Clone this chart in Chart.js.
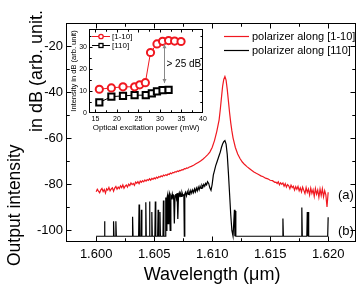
<!DOCTYPE html>
<html>
<head>
<meta charset="utf-8">
<script src="https://cdn.jsdelivr.net/npm/chart.js@4"></script>
<style>
  html, body { margin: 0; padding: 0; background: #fff; }
  #wrap { position: relative; width: 362px; height: 285px; overflow: hidden; }
  #main { position: absolute; left: 0; top: 0; }
  #inset { position: absolute; left: 66px; top: 23px; }
</style>
</head>
<body>
<div id="wrap">
  <canvas id="main" width="362" height="285"></canvas>
  <canvas id="inset" width="145" height="115"></canvas>
</div>
<script>
// Main spectra (wavelength in um, intensity in dB)
const redWl = [1.6000,1.6001,1.6002,1.6003,1.6004,1.6005,1.6006,1.6007,1.6008,1.6009,1.6010,1.6011,1.6012,1.6013,1.6014,1.6015,1.6016,1.6017,1.6018,1.6019,1.6020,1.6021,1.6022,1.6023,1.6024,1.6025,1.6026,1.6027,1.6028,1.6029,1.6030,1.6031,1.6032,1.6033,1.6034,1.6035,1.6036,1.6037,1.6038,1.6039,1.6040,1.6041,1.6042,1.6043,1.6044,1.6045,1.6046,1.6047,1.6048,1.6049,1.6050,1.6051,1.6052,1.6053,1.6054,1.6055,1.6056,1.6057,1.6058,1.6059,1.6060,1.6061,1.6062,1.6063,1.6064,1.6065,1.6066,1.6067,1.6068,1.6069,1.6070,1.6071,1.6072,1.6073,1.6074,1.6075,1.6076,1.6077,1.6078,1.6079,1.6080,
  1.6082,1.6084,1.6086,1.6088,1.6090,1.6092,1.6094,1.6096,1.6098,1.6100,1.6102,1.6104,1.6106,1.6107,1.6108,1.6109,1.6110,1.6111,1.6112,1.6113,1.6114,1.6115,1.6116,1.6117,1.6118,1.6120,1.6122,1.6124,1.6126,1.6128,1.6130,1.6132,1.6134,1.6136,1.6138,1.6140,1.6142,1.6144,1.6146,1.6148,1.6150,1.6152,1.6154,
  1.6155,1.6156,1.6157,1.6158,1.6159,1.6160,1.6161,1.6162,1.6163,1.6164,1.6165,1.6166,1.6167,1.6168,1.6169,1.6170,1.6171,1.6172,1.6173,1.6174,1.6175,1.6176,1.6177,1.6178,1.6179,1.6180,1.6181,1.6182,1.6183,1.6184,1.6185,1.6186,1.6187,1.6188,1.6189,1.6190,1.6191,1.6192,1.6193,1.6194,1.6195,1.6196,1.6197,1.6198,1.6199,1.6200];
const redDb = [-83.2,-82.1,-82.9,-83.6,-82.4,-81.8,-83.1,-82.2,-83.8,-81.9,-82.5,-81.3,-82.8,-82.0,-81.5,-83.0,-81.6,-80.9,-82.1,-81.2,-81.8,-80.6,-81.4,-80.2,-81.7,-80.8,-80.3,-81.2,-79.9,-80.5,-79.4,-80.1,-79.6,-80.4,-79.0,-79.5,-78.8,-79.7,-78.6,-79.1,-78.4,-78.9,-78.1,-78.6,-77.9,-78.3,-77.6,-78.2,-77.4,-77.8,-77.2,-77.6,-76.9,-77.3,-76.6,-76.9,-76.3,-76.7,-76.0,-76.3,-75.8,-76.1,-75.5,-75.7,-75.1,-75.4,-74.8,-75.0,-74.5,-74.7,-74.2,-74.4,-73.9,-74.0,-73.6,-73.7,-73.2,-73.3,-72.9,-73.0,-72.6,
  -72.2,-71.7,-71.1,-70.5,-69.9,-69.1,-68.2,-67.2,-66.0,-64.0,-61.0,-57.0,-52.0,-47.5,-42.5,-37.5,-34.5,-33.2,-34.8,-38.8,-43.8,-48.8,-53.2,-56.8,-59.8,-64.0,-66.8,-68.8,-70.3,-71.4,-72.3,-73.1,-73.9,-74.6,-75.2,-75.7,-76.3,-76.7,-77.3,-77.6,-78.2,-78.4,-79.1,
  -79.0,-79.6,-78.9,-80.2,-79.3,-80.0,-79.4,-80.8,-79.7,-81.2,-80.1,-80.6,-81.9,-80.3,-81.4,-80.8,-82.5,-81.0,-82.1,-80.9,-82.8,-81.5,-83.3,-81.2,-82.6,-84.0,-81.4,-83.5,-82.0,-84.6,-81.6,-83.9,-82.3,-85.2,-81.8,-84.3,-82.5,-85.6,-82.0,-84.8,-81.9,-85.4,-82.7,-84.5,-89.8,-83.4];

const blackWl = [1.6000,1.60068,1.60072,1.60076,1.60146,1.60150,1.60154,1.60166,1.60170,1.60174,1.60310,1.60314,1.60318,1.60366,1.60370,1.60374,1.60386,1.60390,1.60394,1.60424,1.60428,1.60432,1.60456,1.60460,1.60464,1.60476,1.60480,1.60484,1.60506,1.60510,1.60514,1.60530,1.60534,1.60538,1.60546,1.60550,1.60554,1.60576,1.60580,1.60584,1.60596,1.60600,1.60606,1.60610,1.60616,1.60620,1.60626,1.60632,1.60638,1.60644,1.60650,1.60656,1.60662,1.60668,1.60674,1.60680,1.60686,1.60692,1.60698,1.60704,1.60710,1.60716,1.60722,1.60728,1.60734,1.60740,1.60748,1.60756,1.60760,1.60764,1.60770,1.60778,1.60786,1.60794,1.60800,1.60808,1.60816,1.60824,1.60832,1.60840,1.60848,1.60856,1.60864,1.60872,1.60880,1.60888,1.60896,1.60904,1.60912,1.60920,1.60928,1.60936,1.60944,1.60952,1.60960,1.60970,1.60980,1.60990,1.61000,1.61010,1.61020,1.61030,1.61040,1.61050,1.61060,1.61070,1.61080,1.61090,1.61100,1.61110,1.61120,1.61130,1.61140,1.61150,1.61160,1.61170,1.61180,1.61188,1.61192,1.61196,1.61200,1.61204,1.61606,1.61610,1.61614,1.61769,1.61773,1.61777,1.61816,1.61820,1.61824,1.61828,1.61832,1.61996,1.62000];
const blackDb = [-102.5,-102.5,-96,-102.5,-102.5,-96,-102.5,-102.5,-96,-102.5,-102.5,-94,-102.5,-102.5,-88.7,-102.5,-102.5,-91,-102.5,-102.5,-87.8,-102.5,-102.5,-87.4,-102.5,-102.5,-92,-102.5,-102.5,-87.4,-102.5,-102.5,-91,-102.5,-102.5,-92,-102.5,-102.5,-87,-102.5,-102.5,-85.7,-100,-86,-84.5,-97,-85,-84,-100,-85,-85.8,-84.2,-86.5,-84.5,-97,-85,-84.2,-86,-83.8,-95,-84.5,-83.6,-85.5,-84,-85.2,-83.5,-84.8,-84.5,-102.5,-84.2,-83.4,-85,-83.2,-84.4,-83,-84.2,-82.6,-83.8,-82.4,-83.6,-82,-83.2,-81.6,-82.8,-81.2,-82.4,-80.8,-81.8,-80.4,-81.2,-80,-80.8,-79.6,-80.2,-78.8,-79.6,-81.5,-82.6,-80,-76,-74,-72,-70.5,-69,-67.5,-66,-64,-62.5,-61.5,-61,-62.5,-67,-75,-84,-93,-100,-102.5,-102.5,-91,-102.5,-91.5,-102.5,-102.5,-94.8,-102.5,-102.5,-90,-102.5,-102.5,-92,-102.5,-92,-102.5,-102.5,-94.3];

const xTicks = [1.600, 1.605, 1.610, 1.615, 1.620];
const yTicks = [-100, -80, -60, -40, -20];
const seriesNames = ['polarizer along [1-10]', 'polarizer along [110]'];

// Inset: intensity vs optical excitation power
const insetPowerRed = [15.9, 18.7, 21.4, 24.1, 25.3, 26.6, 27.8, 29.3, 30.6, 32.0, 33.4, 34.9];
const insetRed = [10.8, 11.4, 11.9, 11.9, 12.8, 13.8, 27.5, 31.4, 32.6, 32.9, 32.7, 32.5];
const insetPowerBlack = [15.9, 18.7, 21.4, 24.1, 26.7, 28.1, 29.3, 30.6, 32.0];
const insetBlack = [4.8, 7.4, 7.8, 8.1, 8.1, 8.9, 9.8, 10.4, 10.5];
const insetXTicks = [15, 20, 25, 30, 35, 40];
const insetYTicks = [0, 10, 20, 30];
const insetNames = ['[1-10]', '[110]'];

const RED = '#f01820';
const FONT = '"Liberation Sans", Arial, sans-serif';

const pts = (xs, ys) => xs.map((x, i) => ({ x: x, y: ys[i] }));

// frame around the plot area plus inward major / minor ticks
function drawFrame(chart, xt, yt, major, minor) {
  const { ctx, chartArea: a, scales } = chart;
  const L = Math.round(a.left) + 0.5, R = Math.round(a.right) - 0.5;
  const T = Math.round(a.top) + 0.5, B = Math.round(a.bottom) - 0.5;
  ctx.save();
  ctx.strokeStyle = '#000';
  ctx.lineWidth = 1;
  ctx.strokeRect(L, T, R - L, B - T);
  ctx.beginPath();
  const xs = xt[1] - xt[0], ys = yt[1] - yt[0];
  const xv = [], yv = [];
  xt.forEach(v => { xv.push([v, major]); xv.push([v - xs / 2, minor]); xv.push([v + xs / 2, minor]); });
  yt.forEach(v => { yv.push([v, major]); yv.push([v - ys / 2, minor]); yv.push([v + ys / 2, minor]); });
  xv.forEach(([v, len]) => {
    const p = Math.round(scales.x.getPixelForValue(v)) + 0.5;
    if (p <= L + 1 || p >= R - 1) return;
    ctx.moveTo(p, B); ctx.lineTo(p, B - len);
    ctx.moveTo(p, T); ctx.lineTo(p, T + len);
  });
  yv.forEach(([v, len]) => {
    const p = Math.round(scales.y.getPixelForValue(v)) + 0.5;
    if (p <= T + 1 || p >= B - 1) return;
    ctx.moveTo(L, p); ctx.lineTo(L + len, p);
    ctx.moveTo(R, p); ctx.lineTo(R - len, p);
  });
  ctx.stroke();
  ctx.restore();
}

function vText(ctx, text, x, y, font, align) {
  ctx.save();
  ctx.translate(x, y);
  ctx.rotate(-Math.PI / 2);
  ctx.font = font;
  ctx.textAlign = align;
  ctx.textBaseline = 'alphabetic';
  ctx.fillText(text, 0, 0);
  ctx.restore();
}

const mainDecor = {
  id: 'mainDecor',
  afterDraw(chart) {
    const ctx = chart.ctx;
    drawFrame(chart, xTicks, yTicks, 5, 3);
    ctx.save();
    ctx.fillStyle = '#000';
    // axis titles (the second half runs off the top edge in the original)
    vText(ctx, 'Output intensity', 20, 266, '17.5px ' + FONT, 'left');
    vText(ctx, 'in dB (arb. unit.', 42, 132, '18px ' + FONT, 'left');
    ctx.font = '18px ' + FONT;
    ctx.textAlign = 'center';
    ctx.textBaseline = 'middle';
    ctx.fillText('Wavelength (\u03bcm)', 212, 275);
    // legend
    const cols = [RED, '#000'];
    ctx.font = '11px ' + FONT;
    ctx.textAlign = 'left';
    seriesNames.forEach((n, i) => {
      const y = 36 + i * 14;
      ctx.strokeStyle = cols[i];
      ctx.lineWidth = 1.2;
      ctx.beginPath(); ctx.moveTo(224, y + 0.5); ctx.lineTo(249, y + 0.5); ctx.stroke();
      ctx.fillText(n, 252, y + 1);
    });
    ctx.font = '13px ' + FONT;
    ctx.fillText('(a)', 338, 195);
    ctx.fillText('(b)', 338, 231);
    ctx.restore();
  }
};

new Chart(document.getElementById('main'), {
  type: 'line',
  data: {
    datasets: [
      { label: seriesNames[0], data: pts(redWl, redDb), borderColor: RED, borderWidth: 1.2 },
      { label: seriesNames[1], data: pts(blackWl, blackDb), borderColor: '#000', borderWidth: 1.2 }
    ]
  },
  options: {
    responsive: false,
    animation: false,
    layout: { padding: { left: 0, right: 6, top: 23, bottom: 0 } },
    elements: { point: { radius: 0 }, line: { tension: 0 } },
    plugins: { legend: { display: false }, tooltip: { enabled: false } },
    scales: {
      x: {
        type: 'linear', min: 1.5974, max: 1.6224,
        afterBuildTicks: s => { s.ticks = xTicks.map(v => ({ value: v })); },
        afterFit: s => { s.height = 43; },
        grid: { display: false, drawTicks: false },
        border: { display: false },
        ticks: { color: '#000', font: { family: FONT, size: 13 }, padding: 5, maxRotation: 0,
                 callback: v => v.toFixed(3) }
      },
      y: {
        min: -105, max: -10,
        afterBuildTicks: s => { s.ticks = yTicks.map(v => ({ value: v })); },
        afterFit: s => { s.width = 66; },
        grid: { display: false, drawTicks: false },
        border: { display: false },
        ticks: { color: '#000', font: { family: FONT, size: 13 }, padding: 3 }
      }
    }
  },
  plugins: [mainDecor]
});

const insetDecor = {
  id: 'insetDecor',
  afterDraw(chart) {
    const { ctx, scales } = chart;
    drawFrame(chart, insetXTicks, insetYTicks, 3, 2);
    ctx.save();
    ctx.fillStyle = '#000';
    vText(ctx, 'Intensity in dB (arb. unit)', 10, 48, '7.5px ' + FONT, 'center');
    ctx.font = '8px ' + FONT;
    ctx.textAlign = 'center';
    ctx.textBaseline = 'middle';
    ctx.fillText('Optical excitation power (mW)', 80, 105);
    // arrow showing the contrast
    const ax = Math.round(scales.x.getPixelForValue(30.9)) + 0.5;
    const y1 = scales.y.getPixelForValue(31.2), y2 = scales.y.getPixelForValue(13.6);
    ctx.strokeStyle = '#888';
    ctx.fillStyle = '#888';
    ctx.lineWidth = 1;
    ctx.beginPath(); ctx.moveTo(ax, y1); ctx.lineTo(ax, y2); ctx.stroke();
    ctx.beginPath(); ctx.moveTo(ax, y1); ctx.lineTo(ax - 2, y1 + 4); ctx.lineTo(ax + 2, y1 + 4); ctx.fill();
    ctx.beginPath(); ctx.moveTo(ax, y2); ctx.lineTo(ax - 2, y2 - 4); ctx.lineTo(ax + 2, y2 - 4); ctx.fill();
    ctx.fillStyle = '#000';
    ctx.font = '10px ' + FONT;
    ctx.textAlign = 'left';
    ctx.fillText('> 25 dB', ax + 2, 41);
    // legend
    const cols = [RED, '#000'];
    const shapes = ['circle', 'rect'];
    ctx.font = '8px ' + FONT;
    insetNames.forEach((n, i) => {
      const y = 13 + i * 9;
      ctx.strokeStyle = cols[i];
      ctx.lineWidth = 1;
      ctx.beginPath(); ctx.moveTo(26, y + 0.5); ctx.lineTo(44, y + 0.5); ctx.stroke();
      ctx.fillStyle = '#fff';
      ctx.lineWidth = 1.3;
      if (shapes[i] === 'circle') {
        ctx.beginPath(); ctx.arc(35, y + 0.5, 2.2, 0, Math.PI * 2); ctx.fill(); ctx.stroke();
      } else {
        ctx.fillRect(33, y - 1.5, 4, 4); ctx.strokeRect(33, y - 1.5, 4, 4);
      }
      ctx.fillStyle = '#000';
      ctx.fillText(n, 46, y + 1);
    });
    ctx.restore();
  }
};

new Chart(document.getElementById('inset'), {
  type: 'line',
  data: {
    datasets: [
      { label: insetNames[0], data: pts(insetPowerRed, insetRed), borderColor: RED, borderWidth: 1,
        pointStyle: 'circle', pointRadius: 3.6, pointBorderWidth: 2, pointBackgroundColor: '#fff', pointBorderColor: RED },
      { label: insetNames[1], data: pts(insetPowerBlack, insetBlack), borderColor: '#000', borderWidth: 1,
        pointStyle: 'rect', pointRadius: 4.4, pointBorderWidth: 2, pointBackgroundColor: '#fff', pointBorderColor: '#000' }
    ]
  },
  options: {
    responsive: false,
    animation: false,
    layout: { padding: { left: 0, right: 8, top: 6, bottom: 0 } },
    elements: { line: { tension: 0 } },
    plugins: { legend: { display: false }, tooltip: { enabled: false } },
    scales: {
      x: {
        type: 'linear', min: 13.5, max: 40,
        afterBuildTicks: s => { s.ticks = insetXTicks.map(v => ({ value: v })); },
        afterFit: s => { s.height = 25; },
        grid: { display: false, drawTicks: false },
        border: { display: false },
        ticks: { color: '#000', font: { family: FONT, size: 7 }, padding: 2, maxRotation: 0 }
      },
      y: {
        min: 0, max: 38,
        afterBuildTicks: s => { s.ticks = insetYTicks.map(v => ({ value: v })); },
        afterFit: s => { s.width = 23; },
        grid: { display: false, drawTicks: false },
        border: { display: false },
        ticks: { color: '#000', font: { family: FONT, size: 7 }, padding: 2 }
      }
    }
  },
  plugins: [insetDecor]
});
</script>
</body>
</html>
